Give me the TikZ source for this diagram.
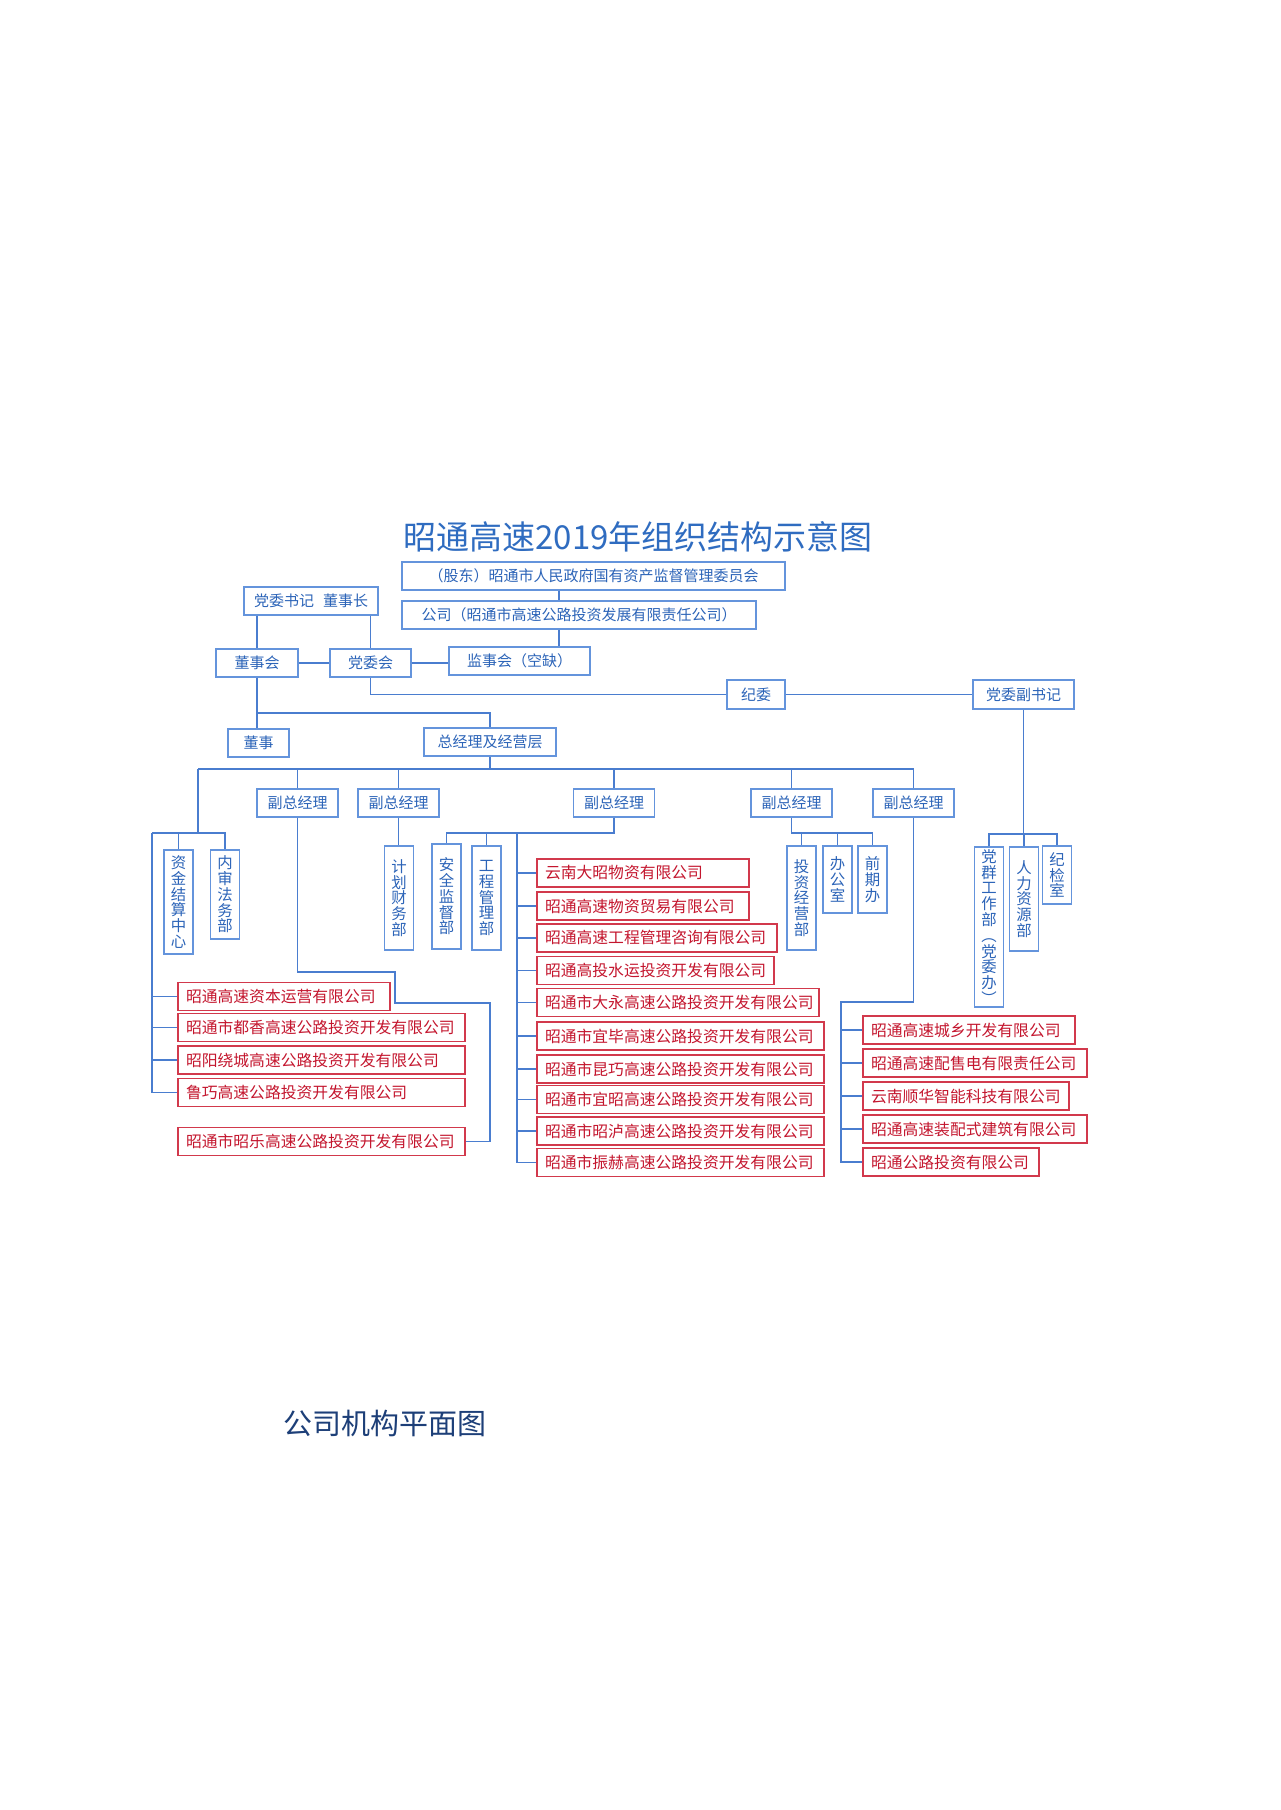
\documentclass[tikz,border=0pt]{standalone}
\usepackage{fontspec}
\setmainfont{Noto Sans CJK SC}
\definecolor{lineblue}{HTML}{4A7DCF}
\definecolor{boxblue}{HTML}{6494DC}
\definecolor{txtblue}{HTML}{2C64B8}
\definecolor{titleblue}{HTML}{2F6CC0}
\definecolor{boxred}{HTML}{D2394C}
\definecolor{txtred}{HTML}{C4162E}
\definecolor{navy}{HTML}{1D3F78}
\begin{document}
\begin{tikzpicture}[x=1pt,y=-1pt,
  bbox/.style={draw=boxblue,line width=1.4pt,text=txtblue,font=\fontsize{15}{16}\selectfont,inner sep=0pt,minimum height=28pt,fill=white},
  vbox/.style={bbox,minimum width=29pt,align=center,font=\fontsize{15.4}{15.8}\selectfont},
  rbox/.style={draw=boxred,line width=1.4pt,text=txtred,font=\fontsize{15.8}{16}\selectfont,inner xsep=8pt,inner ysep=0pt,minimum height=28pt,align=left,fill=white},
  link/.style={draw=lineblue,line width=1.3pt}]
\useasboundingbox (0,0) rectangle (1280,1810);

% title
\node[text=titleblue,font=\fontsize{33}{36}\selectfont] (title) at (638,537) {昭通高速2019年组织结构示意图};
\node[text=navy,font=\fontsize{29}{32}\selectfont] (sub) at (384.5,1423) {公司机构平面图};

% top boxes
\node[bbox,minimum width=383pt] (gd) at (593.5,576) {（股东）昭通市人民政府国有资产监督管理委员会};
\node[bbox,minimum width=354pt] (gs) at (579,615) {公司（昭通市高速公路投资发展有限责任公司）};
\node[bbox,minimum width=134pt] (sj) at (311,601) {党委书记\hspace{0.6em}董事长};
\node[bbox,minimum width=82pt] (dsh) at (257,663) {董事会};
\node[bbox,minimum width=81pt] (dwh) at (370.5,663) {党委会};
\node[bbox,minimum width=141pt] (jsh) at (519.5,661) {监事会（空缺）};
\node[bbox,minimum width=58pt,minimum height=29pt] (jw) at (756,694.5) {纪委};
\node[bbox,minimum width=101pt,minimum height=29pt] (fsj) at (1023.5,694.5) {党委副书记};
\node[bbox,minimum width=61pt] (ds) at (258.5,743) {董事};
\node[bbox,minimum width=132pt] (zjl) at (490,742) {总经理及经营层};

% deputy general managers
\node[bbox,minimum width=81pt] (f1) at (297.5,803) {副总经理};
\node[bbox,minimum width=81pt] (f2) at (398.5,803) {副总经理};
\node[bbox,minimum width=81pt] (f3) at (614,803) {副总经理};
\node[bbox,minimum width=81pt] (f4) at (791.5,803) {副总经理};
\node[bbox,minimum width=81pt] (f5) at (913.5,803) {副总经理};

% vertical departments
\node[vbox,minimum height=104pt] (zj) at (178.5,902) {资\\金\\结\\算\\中\\心};
\node[vbox,minimum height=89pt] (ns) at (225,894.5) {内\\审\\法\\务\\部};
\node[vbox,minimum height=104pt] (jh) at (399,898) {计\\划\\财\\务\\部};
\node[vbox,minimum height=105pt] (aq) at (446.5,896.5) {安\\全\\监\\督\\部};
\node[vbox,minimum height=104pt] (gc) at (486.5,898) {工\\程\\管\\理\\部};
\node[vbox,minimum height=104pt] (tz) at (801.5,898) {投\\资\\经\\营\\部};
\node[vbox,minimum height=67pt] (bg) at (837.5,879.5) {办\\公\\室};
\node[vbox,minimum height=67pt] (qq) at (872.5,879.5) {前\\期\\办};
\node[vbox,minimum height=160pt] (dq) at (989,927) {党\\群\\工\\作\\部\\︵\\党\\委\\办\\︶};
\node[vbox,minimum height=104pt] (rl) at (1024,899) {人\\力\\资\\源\\部};
\node[vbox,minimum height=58pt] (jj) at (1057,875) {纪\\检\\室};

% left red column
\node[rbox,text width=196pt] (r1) at (284,996.5) {昭通高速资本运营有限公司};
\node[rbox,text width=271pt] (r2) at (321.5,1027.5) {昭通市都香高速公路投资开发有限公司};
\node[rbox,text width=271pt] (r3) at (321.5,1060) {昭阳绕城高速公路投资开发有限公司};
\node[rbox,text width=271pt] (r4) at (321.5,1092.5) {鲁巧高速公路投资开发有限公司};
\node[rbox,text width=271pt] (r5) at (321.5,1141.5) {昭通市昭乐高速公路投资开发有限公司};

% middle red column
\node[rbox,text width=196pt] (m1) at (643,873) {云南大昭物资有限公司};
\node[rbox,text width=196pt] (m2) at (643,906) {昭通高速物资贸易有限公司};
\node[rbox,text width=224pt] (m3) at (657,938) {昭通高速工程管理咨询有限公司};
\node[rbox,text width=221pt] (m4) at (655.5,970.5) {昭通高投水运投资开发有限公司};
\node[rbox,text width=266pt] (m5) at (678,1002.5) {昭通市大永高速公路投资开发有限公司};
\node[rbox,text width=271pt] (m6) at (680.5,1036) {昭通市宜毕高速公路投资开发有限公司};
\node[rbox,text width=271pt] (m7) at (680.5,1069) {昭通市昆巧高速公路投资开发有限公司};
\node[rbox,text width=271pt] (m8) at (680.5,1099.5) {昭通市宜昭高速公路投资开发有限公司};
\node[rbox,text width=271pt] (m9) at (680.5,1131) {昭通市昭泸高速公路投资开发有限公司};
\node[rbox,text width=271pt] (m10) at (680.5,1162.5) {昭通市振赫高速公路投资开发有限公司};

% right red column
\node[rbox,text width=196pt] (n1) at (969,1030) {昭通高速城乡开发有限公司};
\node[rbox,text width=208pt] (n2) at (975,1063) {昭通高速配售电有限责任公司};
\node[rbox,text width=190pt] (n3) at (966,1096) {云南顺华智能科技有限公司};
\node[rbox,text width=208pt] (n4) at (975,1129) {昭通高速装配式建筑有限公司};
\node[rbox,text width=160pt] (n5) at (951,1162) {昭通公路投资有限公司};

% helper coordinates
\coordinate (sp) at (559,0);
\coordinate (y713) at (0,713);
\coordinate (ml) at (198,769);
\coordinate (lb) at (152,833);
\coordinate (mb) at (517,833);
\coordinate (rb) at (0,834);
\coordinate (a1) at (395,972);
\coordinate (a2) at (490,1003);
\coordinate (rc) at (841,1002);

% top connectors
\draw[link] (gd.south -| sp) -- (gs.north -| sp);
\draw[link] (gs.south -| sp) -- (jsh.north -| sp);
\draw[link] (sj.south -| dsh.north) -- (dsh.north);
\draw[link] (sj.south -| dwh.north) -- (dwh.north);
\draw[link] (dsh.east) -- (dwh.west);
\draw[link] (dwh.east) -- (dwh.east -| jsh.west);
\draw[link] (dwh.south) |- (jw.west);
\draw[link] (jw.east) -- (fsj.west);
\draw[link] (fsj.south) -- (fsj.south |- rb);
\draw[link] (dq.north) -- (dq.north |- rb) -- (jj.north |- rb) -- (jj.north);
\draw[link] (rl.north |- rb) -- (rl.north);
\draw[link] (dsh.south) -- (ds.north -| dsh.south);
\draw[link] (dsh.south |- y713) -| (zjl.north);
\draw[link] (zjl.south) -- (zjl.south |- ml);
\draw[link] (ml) -- (f5.north |- ml) -- (f5.north);
\foreach \f in {f1,f2,f3,f4} \draw[link] (\f.north |- ml) -- (\f.north);

% left group
\draw[link] (ml) -- (ml |- lb);
\draw[link] (lb) -- (lb -| ns.north) -- (ns.north);
\draw[link] (zj.north |- lb) -- (zj.north);
\draw[link] (lb) -- (lb |- r4.west) -- (r4.west);
\foreach \r in {r1,r2,r3} \draw[link] (lb |- \r.west) -- (\r.west);

% deputy 1 to Zhaole
\draw[link] (f1.south) |- (a1) |- (a2) |- (r5.east);

% deputy 2
\draw[link] (f2.south) -- (f2.south |- jh.north);

% deputy 3
\draw[link] (f3.south) |- (aq.north |- mb) -- (aq.north);
\draw[link] (gc.north |- mb) -- (gc.north);
\draw[link] (mb) -- (mb |- m10.west) -- (m10.west);
\foreach \m in {m1,m2,m3,m4,m5,m6,m7,m8,m9} \draw[link] (mb |- \m.west) -- (\m.west);

% deputy 4
\draw[link] (f4.south) |- (qq.north |- mb) -- (qq.north);
\draw[link] (tz.north |- mb) -- (tz.north);
\draw[link] (bg.north |- mb) -- (bg.north);

% deputy 5
\draw[link] (f5.south) |- (rc) -- (rc |- n5.west) -- (n5.west);
\foreach \n in {n1,n2,n3,n4} \draw[link] (rc |- \n.west) -- (\n.west);
\end{tikzpicture}
\end{document}
